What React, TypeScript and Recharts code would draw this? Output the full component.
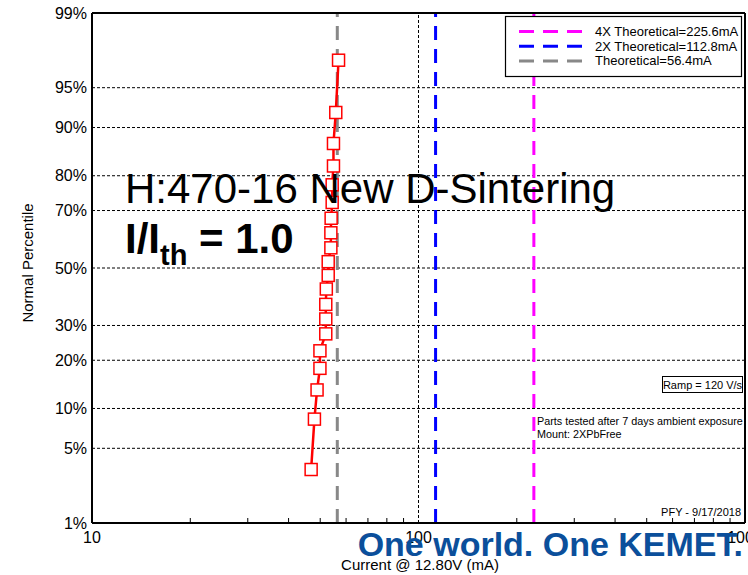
import { CartesianGrid, Line, LineChart, ReferenceLine, XAxis, YAxis } from "recharts";

document.body.style.margin = "0";

// measured points, lowest to highest rank
const percents = [3.3, 8.4, 13.3, 18.0, 22.5, 27.4, 32.1, 37.0, 42.4, 47.3, 52.3, 57.3, 62.6, 67.5, 72.5, 77.6, 82.4, 87.2, 92.2, 97.1];
const currents = [46.9, 48.0, 48.9, 49.9, 49.9, 52.0, 52.0, 52.0, 52.2, 52.9, 52.9, 53.9, 53.9, 54.0, 54.4, 54.4, 54.9, 54.9, 55.8, 56.9];

const percentTicks = [1, 5, 10, 20, 30, 50, 70, 80, 90, 95, 99];
const majorTicks = [10, 100, 1000];
const minorTicks = [20, 30, 40, 50, 60, 70, 80, 90, 200, 300, 400, 500, 600, 700, 800, 900];

const refLabels = ["4X Theoretical=225.6mA", "2X Theoretical=112.8mA", "Theoretical=56.4mA"];
const refValues = [225.6, 112.8, 56.4];
const refColors = ["#ff00ff", "#0000ff", "#888888"];

const FONT = "'Liberation Sans', Arial, sans-serif";

// inverse normal CDF (Acklam) – used for the probability axis
function probit(p: number) {
  const a = [-39.69683028665376, 220.9460984245205, -275.9285104469687, 138.357751867269, -30.66479806614716, 2.506628277459239];
  const b = [-54.47609879822406, 161.5858368580409, -155.6989798598866, 66.80131188771972, -13.28068155288572];
  const c = [-0.007784894002430293, -0.3223964580411365, -2.400758277161838, -2.549732539343734, 4.374664141464968, 2.938163982698783];
  const d = [0.007784695709041462, 0.3224671290700398, 2.445134137142996, 3.754408661907416];
  const lo = 0.02425;
  if (p < lo) {
    const q = Math.sqrt(-2 * Math.log(p));
    return (((((c[0] * q + c[1]) * q + c[2]) * q + c[3]) * q + c[4]) * q + c[5]) / ((((d[0] * q + d[1]) * q + d[2]) * q + d[3]) * q + 1);
  }
  if (p > 1 - lo) return -probit(1 - p);
  const q = p - 0.5;
  const r = q * q;
  return ((((((a[0] * r + a[1]) * r + a[2]) * r + a[3]) * r + a[4]) * r + a[5]) * q) / (((((b[0] * r + b[1]) * r + b[2]) * r + b[3]) * r + b[4]) * r + 1);
}

const zTicks = percentTicks.map((p) => probit(p / 100));
const zMin = zTicks[0];
const zMax = zTicks[zTicks.length - 1];
const data = currents.map((x, i) => ({ x, z: probit(percents[i] / 100) }));
const xTicks = [...majorTicks, ...minorTicks].sort((m, n) => m - n);

function percentLabel(z: number) {
  let best = 0;
  zTicks.forEach((t, i) => {
    if (Math.abs(t - z) < Math.abs(zTicks[best] - z)) best = i;
  });
  return `${percentTicks[best]}%`;
}

function BottomTick(props: any) {
  const { x, y, payload } = props;
  if (majorTicks.includes(payload.value)) {
    return (
      <text x={x} y={y} dy="0.71em" textAnchor="middle" fontSize={16} fill="#000">
        {payload.value}
      </text>
    );
  }
  return <line x1={x} x2={x} y1={y - 9} y2={y - 14} stroke="#000" />;
}

function TopTick(props: any) {
  const { x, y } = props;
  return <line x1={x} x2={x} y1={y} y2={y + 5} stroke="#000" />;
}

function SquareDot(props: any) {
  const { cx, cy, index } = props;
  return <rect key={index} x={cx - 6} y={cy - 6} width={12} height={12} fill="#fff" stroke="#ff0000" strokeWidth={1.5} />;
}

export default function App() {
  return (
    <div style={{ position: "relative", width: 748, height: 575, fontFamily: FONT, background: "#fff", overflow: "hidden" }}>
      <LineChart width={748} height={575} data={data} margin={{ top: 0, right: 3, bottom: 0, left: 0 }}>
        <CartesianGrid vertical={false} stroke="#000" strokeDasharray="3 2" />
        <XAxis
          dataKey="x"
          type="number"
          scale="log"
          domain={[10, 1000]}
          ticks={xTicks}
          interval={0}
          allowDataOverflow
          height={52}
          tickSize={0}
          tickMargin={9}
          tickLine={false}
          tick={<BottomTick />}
          axisLine={{ stroke: "#000", strokeWidth: 2 }}
        />
        <XAxis
          xAxisId="top"
          orientation="top"
          type="number"
          scale="log"
          domain={[10, 1000]}
          ticks={minorTicks}
          interval={0}
          allowDataOverflow
          height={13}
          tickSize={0}
          tickMargin={0}
          tickLine={false}
          tick={<TopTick />}
          axisLine={{ stroke: "#000", strokeWidth: 2 }}
        />
        <YAxis
          dataKey="z"
          type="number"
          domain={[zMin, zMax]}
          ticks={zTicks}
          interval={0}
          allowDataOverflow
          width={92}
          tickSize={0}
          tickMargin={5}
          tickLine={false}
          tickFormatter={percentLabel}
          tick={{ fontSize: 16, fill: "#000" }}
          axisLine={{ stroke: "#000", strokeWidth: 2 }}
        />
        <ReferenceLine x={100} stroke="#000" strokeDasharray="3 2" />
        <ReferenceLine x={1000} stroke="#000" strokeWidth={2} />
        {refValues.map((v, i) => (
          <ReferenceLine key={v} x={v} stroke={refColors[i]} strokeWidth={3} strokeDasharray="14 9" />
        ))}
        <Line
          dataKey="z"
          stroke="#ff0000"
          strokeWidth={2.5}
          dot={<SquareDot />}
          isAnimationActive={false}
        />
      </LineChart>

      <svg width={748} height={575} style={{ position: "absolute", left: 0, top: 0, pointerEvents: "none" }} fontFamily={FONT}>
        <text x={125} y={203} fontSize={42} fill="#000">H:470-16 New D-Sintering</text>
        <text x={125} y={253} fontSize={42} fontWeight="bold" fill="#000">
          I/I
          <tspan fontSize={29} dy={12}>th</tspan>
          <tspan fontSize={42} dy={-12}> = 1.0</tspan>
        </text>

        <text x={33} y={263} fontSize={15} textAnchor="middle" transform="rotate(-90 33 263)" fill="#000">
          Normal Percentile
        </text>
        <text x={420} y={570} fontSize={15} textAnchor="middle" fill="#000">Current @ 12.80V (mA)</text>

        <rect x={505.5} y={16.5} width={236} height={60} fill="#fff" stroke="#000" strokeWidth={1.2} />
        {refLabels.map((label, i) => (
          <g key={label}>
            <line x1={519} x2={582} y1={31.5 + i * 14.7} y2={31.5 + i * 14.7} stroke={refColors[i]} strokeWidth={3} strokeDasharray="15 9" />
            <text x={595} y={36 + i * 14.7} fontSize={13} fill="#000">{label}</text>
          </g>
        ))}

        <rect x={662.5} y={376.5} width={80} height={16} fill="#fff" stroke="#000" strokeWidth={1} />
        <text x={702.5} y={389} fontSize={11} textAnchor="middle" fill="#000">Ramp = 120 V/s</text>
        <text x={537} y={425} fontSize={10.8} fill="#000">Parts tested after 7 days ambient exposure</text>
        <text x={537} y={438} fontSize={10.8} fill="#000">Mount: 2XPbFree</text>
        <text x={741} y={516} fontSize={11} textAnchor="end" fill="#000">PFY - 9/17/2018</text>

        <text x={743} y={556} fontSize={34} fontWeight="bold" textAnchor="end" fill="#0b4f9b">One world. One KEMET.</text>
      </svg>
    </div>
  );
}
